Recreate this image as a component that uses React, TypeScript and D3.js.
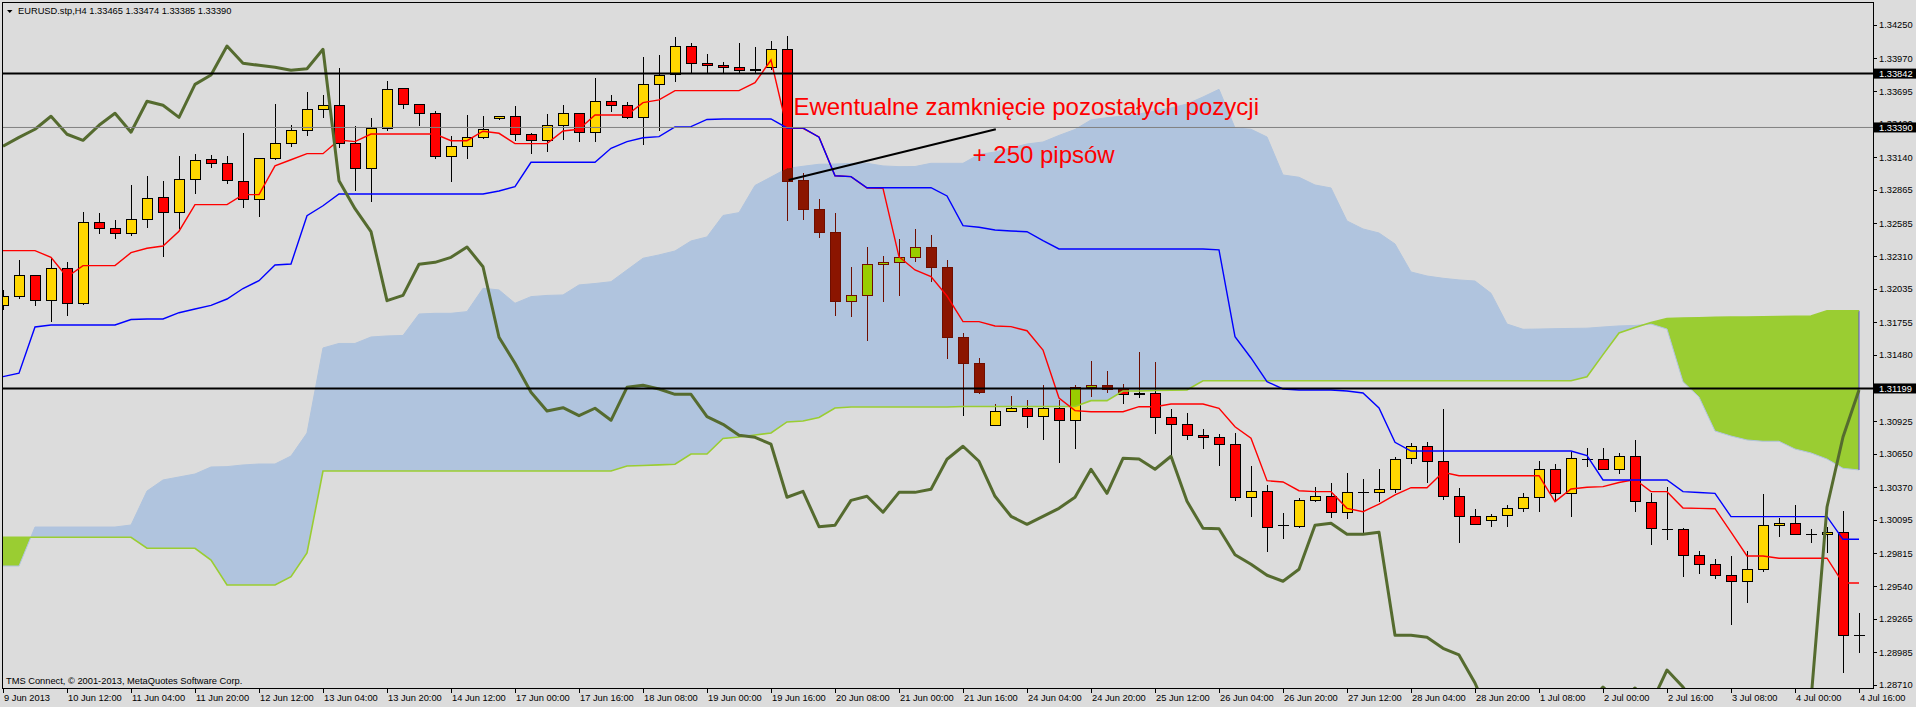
import React from "react";
import * as d3 from "d3";

const W = 1916;
const H = 707;

const header = "EURUSD.stp,H4  1.33465 1.33474 1.33385 1.33390";
const copyright = "TMS Connect, \u00A9 2001-2013, MetaQuotes Software Corp.";

const open = [
  1.31897, 1.31978, 1.32149, 1.31939, 1.32208, 1.31914, 1.32594, 1.32544, 1.32502, 1.32619,
  1.32804, 1.32683, 1.32955, 1.33123, 1.33089, 1.32938, 1.32787, 1.33131, 1.33257, 1.33366,
  1.33543, 1.33576, 1.33257, 1.33047, 1.33383, 1.33719, 1.33585, 1.33509, 1.33148, 1.33232,
  1.33307, 1.33467, 1.33484, 1.33333, 1.33282, 1.33408, 1.33509, 1.3335, 1.3361, 1.33576,
  1.33475, 1.33752, 1.33839, 1.34074, 1.33929, 1.33912, 1.33895, 1.3387, 1.33895, 1.34046,
  1.32947, 1.32708, 1.32515, 1.31931, 1.31981, 1.32242, 1.32258, 1.323, 1.32387, 1.32221,
  1.31629, 1.3141, 1.3089, 1.31013, 1.31038, 1.30971, 1.31033, 1.30932, 1.31209, 1.31226,
  1.31201, 1.31159, 1.31159, 1.30962, 1.30898, 1.30806, 1.30789, 1.30731, 1.30286, 1.30336,
  1.30045, 1.30047, 1.3026, 1.30294, 1.3016, 1.30327, 1.30327, 1.30353, 1.30613, 1.30714,
  1.30588, 1.30294, 1.30126, 1.30093, 1.30135, 1.30193, 1.30286, 1.30521, 1.30319, 1.30607,
  1.30605, 1.30521, 1.3063, 1.30244, 1.30022, 1.30017, 1.29804, 1.29723, 1.29631, 1.29581,
  1.29681, 1.30051, 1.30067, 1.29975, 1.29975, 1.29992, 1.29127,
];
const high = [
  1.32026, 1.32278, 1.32154, 1.32297, 1.32261, 1.3268, 1.32672, 1.32613, 1.32907, 1.32983,
  1.32941, 1.3315, 1.33167, 1.33156, 1.3315, 1.33344, 1.33131, 1.33587, 1.33411, 1.33688,
  1.33663, 1.33887, 1.334, 1.33467, 1.3378, 1.33719, 1.33585, 1.33526, 1.33316, 1.33495,
  1.33486, 1.33484, 1.33568, 1.33341, 1.33501, 1.33576, 1.33509, 1.33803, 1.3366, 1.33606,
  1.33979, 1.33998, 1.34152, 1.34097, 1.34007, 1.33937, 1.34097, 1.34063, 1.34116, 1.34158,
  1.33005, 1.3279, 1.32672, 1.32219, 1.32387, 1.32311, 1.32454, 1.32538, 1.32487, 1.3228,
  1.31667, 1.31455, 1.31069, 1.31136, 1.31102, 1.31226, 1.31102, 1.31226, 1.3143, 1.31346,
  1.31237, 1.31505, 1.31421, 1.31027, 1.30991, 1.30859, 1.30817, 1.30825, 1.30551, 1.30389,
  1.30156, 1.30277, 1.30372, 1.30406, 1.30492, 1.30439, 1.30523, 1.30624, 1.30742, 1.30747,
  1.31027, 1.30364, 1.30185, 1.30146, 1.30219, 1.30322, 1.3059, 1.30565, 1.30666, 1.30699,
  1.30699, 1.30658, 1.30767, 1.30319, 1.30372, 1.30025, 1.29835, 1.29768, 1.29793, 1.29837,
  1.30313, 1.30114, 1.30219, 1.30017, 1.30039, 1.30173, 1.29317,
];
const low = [
  1.31858, 1.3195, 1.31891, 1.3176, 1.3181, 1.31897, 1.32498, 1.32456, 1.32481, 1.32549,
  1.32305, 1.32535, 1.32834, 1.33052, 1.32913, 1.32717, 1.32641, 1.33117, 1.33224, 1.33321,
  1.33472, 1.33215, 1.32859, 1.32767, 1.33363, 1.33543, 1.33405, 1.33123, 1.32935, 1.33123,
  1.33296, 1.3345, 1.33279, 1.3317, 1.33182, 1.33282, 1.33271, 1.33266, 1.33522, 1.33459,
  1.33243, 1.33363, 1.33774, 1.3385, 1.33839, 1.33839, 1.33839, 1.3385, 1.3387, 1.32607,
  1.32613, 1.32465, 1.3181, 1.31797, 1.316, 1.31928, 1.31978, 1.32263, 1.3209, 1.31449,
  1.30971, 1.3115, 1.3089, 1.31013, 1.3087, 1.30769, 1.30576, 1.30694, 1.31128, 1.31159,
  1.31071, 1.31122, 1.3082, 1.30635, 1.30769, 1.30694, 1.30551, 1.30257, 1.30123, 1.29829,
  1.29938, 1.30031, 1.30249, 1.30112, 1.30106, 1.29983, 1.30249, 1.30319, 1.30568, 1.30403,
  1.3026, 1.29904, 1.30059, 1.30039, 1.30039, 1.30165, 1.30165, 1.30249, 1.30123, 1.30538,
  1.30521, 1.30479, 1.30165, 1.29885, 1.2993, 1.29619, 1.29642, 1.29602, 1.29216, 1.29401,
  1.29661, 1.29955, 1.29967, 1.29904, 1.29821, 1.28813, 1.28976,
];
const close = [
  1.31978, 1.32149, 1.31939, 1.32208, 1.31914, 1.32594, 1.32544, 1.32502, 1.32619, 1.32796,
  1.32683, 1.32955, 1.33114, 1.33089, 1.32947, 1.32787, 1.33131, 1.33257, 1.33366, 1.33543,
  1.33576, 1.33257, 1.33047, 1.33383, 1.3371, 1.33587, 1.33509, 1.33148, 1.33232, 1.33307,
  1.33375, 1.33484, 1.33333, 1.33282, 1.33408, 1.33509, 1.3335, 1.3361, 1.33576, 1.33475,
  1.33752, 1.3383, 1.34074, 1.33929, 1.33912, 1.33895, 1.3387, 1.33883, 1.34046, 1.32943,
  1.32708, 1.32515, 1.31936, 1.31981, 1.32242, 1.32258, 1.323, 1.32387, 1.32221, 1.31629,
  1.3141, 1.31167, 1.3101, 1.31038, 1.30971, 1.31033, 1.30932, 1.31209, 1.31226, 1.31195,
  1.3115, 1.3115, 1.30962, 1.30898, 1.30806, 1.30789, 1.30731, 1.30286, 1.30336, 1.30039,
  1.30051, 1.3026, 1.30294, 1.3016, 1.30327, 1.30327, 1.30353, 1.30605, 1.30714, 1.30588,
  1.30294, 1.30126, 1.30059, 1.30126, 1.30193, 1.30286, 1.30521, 1.30319, 1.30613, 1.30607,
  1.30521, 1.3063, 1.30252, 1.30025, 1.30022, 1.29804, 1.29723, 1.29631, 1.29581, 1.29681,
  1.30051, 1.30067, 1.29975, 1.29975, 1.29992, 1.29127, 1.29127,
];

const tenkan = [
  1.32356, 1.32356, 1.32356, 1.323, 1.32135, 1.3223, 1.3223, 1.3223, 1.32339, 1.32376,
  1.32395, 1.32519, 1.32742, 1.32742, 1.32742, 1.32826, 1.32826, 1.33067, 1.33119, 1.3317,
  1.3317, 1.33285, 1.33271, 1.33335, 1.33335, 1.33335, 1.33335, 1.33335, 1.33279, 1.33279,
  1.33358, 1.33341, 1.33254, 1.33254, 1.33254, 1.3336, 1.33375, 1.33495, 1.33495, 1.33495,
  1.33598, 1.33621, 1.33699, 1.33699, 1.33699, 1.33699, 1.33699, 1.33766, 1.33956, 1.33383,
  1.33383, 1.3331, 1.32984, 1.32977, 1.32882, 1.32879, 1.32305, 1.32194, 1.32139, 1.31975,
  1.3176, 1.3176, 1.31724, 1.31718, 1.31684, 1.31522, 1.31119, 1.31013, 1.31004, 1.31004,
  1.31004, 1.31046, 1.31046, 1.31069, 1.31069, 1.31069, 1.31033, 1.30878, 1.30781, 1.30425,
  1.30414, 1.30341, 1.30333, 1.30333, 1.30193, 1.30165, 1.30229, 1.30305, 1.30366, 1.30366,
  1.30496, 1.30467, 1.30467, 1.30467, 1.30467, 1.30467, 1.30467, 1.30249, 1.30355, 1.3037,
  1.30375, 1.3041, 1.30435, 1.30333, 1.30333, 1.30196, 1.30193, 1.3019, 1.29994, 1.29793,
  1.29793, 1.29774, 1.29774, 1.29774, 1.29774, 1.29566, 1.29566,
];
const kijun = [
  1.31298, 1.31327, 1.31715, 1.31732, 1.31732, 1.31732, 1.31732, 1.31732, 1.31778, 1.31782,
  1.31782, 1.31835, 1.31866, 1.31897, 1.3195, 1.32038, 1.32104, 1.32236, 1.32244, 1.32649,
  1.32733, 1.32832, 1.32832, 1.32832, 1.32832, 1.32832, 1.32832, 1.32832, 1.32832, 1.32832,
  1.32832, 1.32857, 1.32893, 1.33098, 1.33098, 1.33098, 1.33098, 1.33098, 1.33215, 1.33271,
  1.33304, 1.33313, 1.33394, 1.33397, 1.33457, 1.33461, 1.33461, 1.33461, 1.33461, 1.33386,
  1.33386, 1.33308, 1.32985, 1.32977, 1.32884, 1.32884, 1.32884, 1.32884, 1.32884, 1.32815,
  1.32566, 1.32552, 1.32529, 1.32521, 1.32515, 1.3244, 1.3237, 1.3237, 1.3237, 1.3237,
  1.3237, 1.3237, 1.3237, 1.3237, 1.3237, 1.3237, 1.32362, 1.31634, 1.31455, 1.31256,
  1.31195, 1.31186, 1.31186, 1.31186, 1.31178, 1.31161, 1.31035, 1.30747, 1.30674, 1.30674,
  1.30674, 1.30674, 1.30674, 1.30674, 1.30674, 1.30674, 1.30674, 1.30674, 1.30674, 1.30635,
  1.30431, 1.30431, 1.30431, 1.30431, 1.30431, 1.30333, 1.30326, 1.30319, 1.30123, 1.30123,
  1.30123, 1.30123, 1.30123, 1.30123, 1.30123, 1.29933, 1.29933,
];
const spanA = [
  1.2995, 1.2995, 1.2995, 1.2995, 1.2995, 1.2995, 1.2995, 1.2995, 1.2995, 1.29858,
  1.29858, 1.29858, 1.29858, 1.29759, 1.2955, 1.2955, 1.2955, 1.2955, 1.29619, 1.29818,
  1.30506, 1.30506, 1.30506, 1.30506, 1.30506, 1.30506, 1.30506, 1.30506, 1.30506, 1.30506,
  1.30506, 1.30506, 1.30506, 1.30506, 1.30506, 1.30506, 1.30506, 1.30506, 1.30506, 1.30548,
  1.30553, 1.30558, 1.30563, 1.30649, 1.30649, 1.30779, 1.30792, 1.30809, 1.30825, 1.30918,
  1.30926, 1.30956, 1.31035, 1.31044, 1.31044, 1.31044, 1.31044, 1.31044, 1.31044, 1.31044,
  1.31048, 1.31048, 1.31048, 1.31048, 1.31048, 1.31048, 1.31048, 1.31048, 1.31097, 1.31097,
  1.31178, 1.31178, 1.31182, 1.31184, 1.31186, 1.31264, 1.31264, 1.31264, 1.31264, 1.31264,
  1.31264, 1.31264, 1.31264, 1.31264, 1.31264, 1.31264, 1.31264, 1.31264, 1.31264, 1.31264,
  1.31264, 1.31264, 1.31264, 1.31264, 1.31264, 1.31264, 1.31264, 1.31264, 1.31264, 1.31298,
  1.31483, 1.31665, 1.31711, 1.31753, 1.31787, 1.31791, 1.31793, 1.31796, 1.31798, 1.31799,
  1.31801, 1.31802, 1.31805, 1.31807, 1.31852, 1.31852, 1.31852,
];
const spanB = [
  1.29709, 1.29709, 1.30036, 1.30036, 1.30036, 1.30036, 1.30036, 1.30036, 1.30053, 1.30338,
  1.30431, 1.30456, 1.30481, 1.3054, 1.30543, 1.30557, 1.30565, 1.30565, 1.30632, 1.30825,
  1.31539, 1.31577, 1.31577, 1.31631, 1.3164, 1.31644, 1.31824, 1.3183, 1.3183, 1.31844,
  1.3204, 1.32026, 1.31914, 1.3197, 1.3198, 1.31984, 1.32068, 1.3208, 1.32095, 1.32194,
  1.32292, 1.3232, 1.32353, 1.32437, 1.32471, 1.32651, 1.32675, 1.32903, 1.32974, 1.33046,
  1.33064, 1.33081, 1.33083, 1.33088, 1.33089, 1.33067, 1.33061, 1.33062, 1.33089, 1.33089,
  1.33089, 1.33163, 1.33184, 1.33218, 1.33251, 1.33268, 1.33323, 1.33373, 1.33453, 1.33472,
  1.33486, 1.33503, 1.33528, 1.33553, 1.33587, 1.33646, 1.3371, 1.33386, 1.33375, 1.3331,
  1.32991, 1.32972, 1.32907, 1.32882, 1.32605, 1.32538, 1.32504, 1.32412, 1.32177, 1.32143,
  1.32124, 1.3211, 1.32101, 1.31998, 1.3174, 1.31696, 1.31698, 1.31701, 1.31703, 1.31705,
  1.31715, 1.31724, 1.31728, 1.3174, 1.31698, 1.31256, 1.31128, 1.30842, 1.308, 1.30767,
  1.30756, 1.30756, 1.30691, 1.30658, 1.30607, 1.30529, 1.30515,
];
const chikou = [
  1.33232, 1.33307, 1.33375, 1.33484, 1.33333, 1.33282, 1.33408, 1.33509, 1.3335, 1.3361,
  1.33576, 1.33475, 1.33752, 1.3383, 1.34074, 1.33929, 1.33912, 1.33895, 1.3387, 1.33883,
  1.34046, 1.32943, 1.32708, 1.32515, 1.31936, 1.31981, 1.32242, 1.32258, 1.323, 1.32387,
  1.32221, 1.31629, 1.3141, 1.31167, 1.3101, 1.31038, 1.30971, 1.31033, 1.30932, 1.31209,
  1.31226, 1.31195, 1.3115, 1.3115, 1.30962, 1.30898, 1.30806, 1.30789, 1.30731, 1.30286,
  1.30336, 1.30039, 1.30051, 1.3026, 1.30294, 1.3016, 1.30327, 1.30327, 1.30353, 1.30605,
  1.30714, 1.30588, 1.30294, 1.30126, 1.30059, 1.30126, 1.30193, 1.30286, 1.30521, 1.30319,
  1.30613, 1.30607, 1.30521, 1.3063, 1.30252, 1.30025, 1.30022, 1.29804, 1.29723, 1.29631,
  1.29581, 1.29681, 1.30051, 1.30067, 1.29975, 1.29975, 1.29992, 1.29127, 1.29127, 1.29111,
  1.29018, 1.28962, 1.28727, 1.28416, 1.28248, 1.28165, 1.28248, 1.28332, 1.28416, 1.28542,
  1.28693, 1.28567, 1.28685, 1.28551, 1.28836, 1.28693, 1.285, 1.28416, 1.28416, 1.28416,
  1.28416, 1.28416, 1.28458, 1.28584, 1.30204, 1.30792, 1.31186,
];

const timeLabelBars = [0, 4, 8, 12, 16, 20, 24, 28, 32, 36, 40, 44, 48, 52, 56, 60, 64, 68, 72, 76, 80, 84, 88, 92, 96, 100, 104, 108, 112, 116];
const timeLabels = [
  "9 Jun 2013", "10 Jun 12:00", "11 Jun 04:00", "11 Jun 20:00", "12 Jun 12:00", "13 Jun 04:00",
  "13 Jun 20:00", "14 Jun 12:00", "17 Jun 00:00", "17 Jun 16:00", "18 Jun 08:00", "19 Jun 00:00",
  "19 Jun 16:00", "20 Jun 08:00", "21 Jun 00:00", "21 Jun 16:00", "24 Jun 04:00", "24 Jun 20:00",
  "25 Jun 12:00", "26 Jun 04:00", "26 Jun 20:00", "27 Jun 12:00", "28 Jun 04:00", "28 Jun 20:00",
  "1 Jul 08:00", "2 Jul 00:00", "2 Jul 16:00", "3 Jul 08:00", "4 Jul 00:00", "4 Jul 16:00",
];
const priceTicks = [
  1.3425, 1.3397, 1.33695, 1.3342, 1.3314, 1.32865, 1.32585, 1.3231, 1.32035, 1.31755, 1.3148,
  1.30925, 1.3065, 1.3037, 1.30095, 1.29815, 1.2954, 1.29265, 1.28985, 1.2871,
];
const levelPrices = [1.33842, 1.31199];
const bidPrice = 1.3339;

const trendBars = [49.1, 62.05];
const trendPrices = [1.32949, 1.33375];
const noteTexts = ["Ewentualne zamknięcie pozostałych pozycji", "+ 250 pipsów"];
const noteBars = [49.4, 60.6];
const notePrices = [1.33495, 1.33092];

const FONT = "'Liberation Sans', Arial, sans-serif";

export default function App() {
  const n = open.length;
  const idx = d3.range(n);
  const x = d3.scaleLinear().domain([0, 116]).range([3, 1859]);
  const y = d3.scaleLinear().domain([1.2871, 1.3425]).range([685, 25]);

  const line = (arr: number[]) =>
    d3.line<number>().x((i) => x(i)).y((i) => y(arr[i]))(idx) || "";
  const between =
    d3.area<number>().x((i) => x(i)).y0((i) => y(spanA[i])).y1((i) => y(spanB[i]))(idx) || "";
  const aboveA =
    d3.area<number>().x((i) => x(i)).y0(0).y1((i) => y(spanA[i]))(idx) || "";
  const belowA =
    d3.area<number>().x((i) => x(i)).y0((i) => y(spanA[i])).y1(H)(idx) || "";

  const candle = (i: number, dark: boolean) => {
    const cx = Math.round(x(i)) + 0.5;
    const yO = y(open[i]);
    const yC = y(close[i]);
    const yH = y(high[i]);
    const yL = y(low[i]);
    const bull = close[i] > open[i];
    const doji = Math.abs(yO - yC) < 1;
    const edge = dark ? "#6E0E00" : "#000000";
    const fill = dark ? (bull ? "#99CC00" : "#8B1500") : bull ? "#FFD700" : "#FF0000";
    const top = Math.round(Math.min(yO, yC)) + 0.5;
    const bot = Math.round(Math.max(yO, yC)) + 0.5;
    return (
      <g key={i}>
        <line x1={cx} x2={cx} y1={yH} y2={yL} stroke={edge} strokeWidth={1} />
        {doji ? (
          <line x1={cx - 5.5} x2={cx + 5.5} y1={top} y2={top} stroke={edge} strokeWidth={1} />
        ) : (
          <rect x={cx - 5} y={top} width={10} height={bot - top} fill={fill} stroke={edge} strokeWidth={1} />
        )}
      </g>
    );
  };

  return (
    <div style={{ position: "fixed", left: 0, top: 0, width: W, height: H }}>
      <svg width={W} height={H} style={{ display: "block" }} fontFamily={FONT}>
        <defs>
          <clipPath id="plot">
            <rect x={3} y={3} width={1870} height={685} />
          </clipPath>
          <clipPath id="aboveA">
            <path d={aboveA} />
          </clipPath>
          <clipPath id="belowA">
            <path d={belowA} />
          </clipPath>
          <clipPath id="between">
            <path d={between} />
          </clipPath>
        </defs>
        <rect x={0} y={0} width={W} height={H} fill="#DCDCDC" />

        <g clipPath="url(#plot)">
          {/* Kumo cloud */}
          <g clipPath="url(#aboveA)">
            <path d={between} fill="#B0C4DE" />
          </g>
          <g clipPath="url(#belowA)">
            <path d={between} fill="#9ACD32" />
          </g>
          <path d={line(spanB)} fill="none" stroke="#B0C4DE" strokeWidth={1} />
          <line
            x1={x(116)}
            x2={x(116)}
            y1={y(spanA[116])}
            y2={y(spanB[116])}
            stroke="#5A50C8"
            strokeWidth={1}
          />

          {/* candles */}
          <g shapeRendering="crispEdges">{idx.map((i) => candle(i, false))}</g>
          <g clipPath="url(#aboveA)">
            <g clipPath="url(#between)" shapeRendering="crispEdges">
              {idx.map((i) => candle(i, true))}
            </g>
          </g>

          <path d={line(spanA)} fill="none" stroke="#9ACD32" strokeWidth={1.6} />
          <path d={line(tenkan)} fill="none" stroke="#FF0000" strokeWidth={1.4} />
          <path d={line(kijun)} fill="none" stroke="#0000FF" strokeWidth={1.4} />
          <path d={line(chikou)} fill="none" stroke="#556B2F" strokeWidth={3} strokeLinejoin="round" />

          {/* levels */}
          <line x1={0} x2={1873} y1={y(bidPrice)} y2={y(bidPrice)} stroke="#808080" strokeWidth={1} />
          {levelPrices.map((p) => (
            <line key={p} x1={0} x2={1873} y1={y(p)} y2={y(p)} stroke="#000" strokeWidth={2} />
          ))}

          <line
            x1={x(trendBars[0])}
            y1={y(trendPrices[0])}
            x2={x(trendBars[1])}
            y2={y(trendPrices[1])}
            stroke="#000"
            strokeWidth={2}
          />
          {noteTexts.map((t, k) => (
            <text key={t} x={x(noteBars[k])} y={y(notePrices[k])} fill="#FF0000" fontSize={24} fontFamily={FONT}>
              {t}
            </text>
          ))}

          <polygon points="7,10 12.5,10 9.75,13" fill="#000" />
          <text x={18} y={14} fontSize={9.3} fill="#000">
            {header}
          </text>
          <text x={6} y={684} fontSize={9.3} fill="#000">
            {copyright}
          </text>
        </g>

        {/* frame */}
        <g shapeRendering="crispEdges" stroke="#000" strokeWidth={1}>
          <line x1={2.5} x2={2.5} y1={2} y2={689} />
          <line x1={2} x2={1874} y1={2.5} y2={2.5} />
          <line x1={1873.5} x2={1873.5} y1={2} y2={689} />
          <line x1={2} x2={1874} y1={688.5} y2={688.5} />
        </g>

        {/* price axis */}
        {priceTicks.map((p) => (
          <g key={p}>
            <line x1={1873} x2={1877} y1={Math.round(y(p)) + 0.5} y2={Math.round(y(p)) + 0.5} stroke="#000" shapeRendering="crispEdges" />
            <text x={1879} y={y(p) + 3.4} fontSize={9.3} fill="#000">
              {p.toFixed(5)}
            </text>
          </g>
        ))}
        {[...levelPrices, bidPrice].map((p) => (
          <g key={"b" + p}>
            <rect x={1874} y={y(p) - 5} width={42} height={10} fill="#000" />
            <text x={1879} y={y(p) + 3.4} fontSize={9.3} fill="#FFF">
              {p.toFixed(5)}
            </text>
          </g>
        ))}

        {/* time axis */}
        {timeLabelBars.map((b, k) => (
          <g key={b}>
            <line x1={Math.round(x(b)) + 0.5} x2={Math.round(x(b)) + 0.5} y1={688} y2={693} stroke="#000" shapeRendering="crispEdges" />
            <text x={x(b) + 1} y={701} fontSize={9.3} fill="#000">
              {timeLabels[k]}
            </text>
          </g>
        ))}
      </svg>
    </div>
  );
}
